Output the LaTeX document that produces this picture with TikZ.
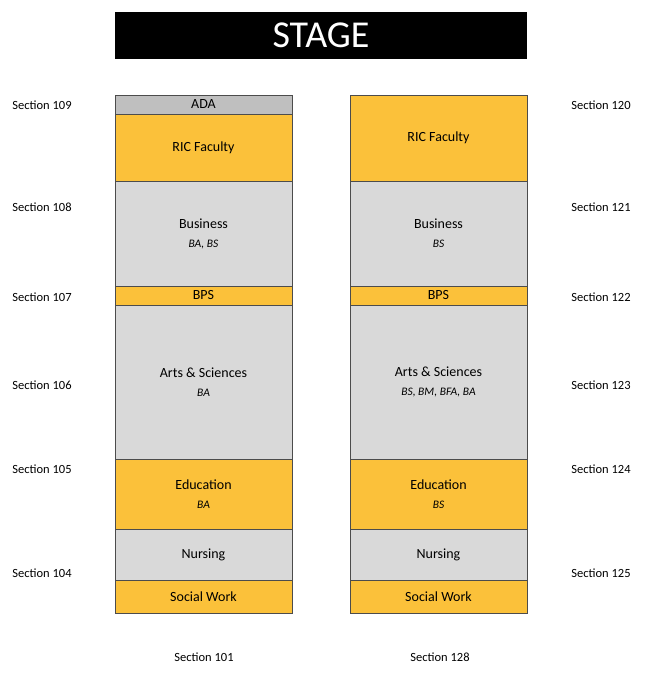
\documentclass[tikz,border=0pt]{standalone}
\usepackage{fontspec}
\setmainfont{Carlito}
\definecolor{org}{HTML}{FBC13A}
\definecolor{lg}{HTML}{D9D9D9}
\definecolor{dg}{HTML}{BFBFBF}
\newcommand{\sbl}[1]{\\[3pt]{\fontsize{11.5}{13}\itshape #1}}
\begin{document}
\begin{tikzpicture}[x=1pt,y=-1pt,
  blk/.style={draw=black!70,line width=0.6pt,inner sep=0pt,align=center,font=\fontsize{14}{16}\selectfont},
  sec/.style={font=\fontsize{12.5}{14}\selectfont}]
\useasboundingbox (0,0) rectangle (645,677);
\node[fill=black,text=white,minimum width=412pt,minimum height=47pt,inner sep=0pt,font=\fontsize{38}{42}\selectfont] (stage) at (321,35.5) {STAGE};
\newcommand{\bx}[7]{\node[blk,fill=#6,minimum width=#3pt-#2pt,minimum height=#5pt-#4pt] (#1) at ({(#2+#3)/2},{(#4+#5)/2}) {#7};}
\bx{lada}{115}{292}{95}{114}{dg}{ADA}
\bx{lric}{115}{292}{114}{181}{org}{RIC Faculty}
\bx{lbus}{115}{292}{181}{286}{lg}{Business\sbl{BA, BS}}
\bx{lbps}{115}{292}{286}{305}{org}{BPS}
\bx{lart}{115}{292}{305}{459}{lg}{Arts \& Sciences\sbl{BA}}
\bx{ledu}{115}{292}{459}{529}{org}{Education\sbl{BA}}
\bx{lnur}{115}{292}{529}{580}{lg}{Nursing}
\bx{lsw}{115}{292}{580}{613}{org}{Social Work}
\bx{rric}{350}{527}{95}{181}{org}{RIC Faculty}
\bx{rbus}{350}{527}{181}{286}{lg}{Business\sbl{BS}}
\bx{rbps}{350}{527}{286}{305}{org}{BPS}
\bx{rart}{350}{527}{305}{459}{lg}{Arts \& Sciences\sbl{BS, BM, BFA, BA}}
\bx{redu}{350}{527}{459}{529}{org}{Education\sbl{BS}}
\bx{rnur}{350}{527}{529}{580}{lg}{Nursing}
\bx{rsw}{350}{527}{580}{613}{org}{Social Work}
\node[sec] (s109) at (42,105) {Section 109};
\node[sec] (s108) at (42,207) {Section 108};
\node[sec] (s107) at (42,297) {Section 107};
\node[sec] (s106) at (42,385) {Section 106};
\node[sec] (s105) at (42,469) {Section 105};
\node[sec] (s104) at (42,573) {Section 104};
\node[sec] (s120) at (601,105) {Section 120};
\node[sec] (s121) at (601,207) {Section 121};
\node[sec] (s122) at (601,297) {Section 122};
\node[sec] (s123) at (601,385) {Section 123};
\node[sec] (s124) at (601,469) {Section 124};
\node[sec] (s125) at (601,573) {Section 125};
\node[sec] (s101) at (204,657) {Section 101};
\node[sec] (s128) at (440,657) {Section 128};
\end{tikzpicture}
\end{document}
